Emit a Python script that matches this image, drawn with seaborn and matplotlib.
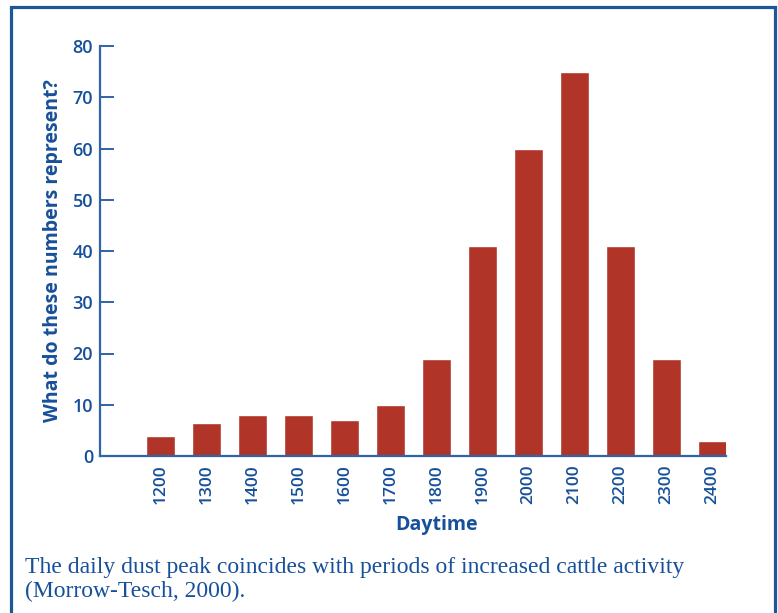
import matplotlib
matplotlib.use("Agg")
import matplotlib.pyplot as plt
from matplotlib.lines import Line2D
import seaborn as sns

# data
HOURS = ["1200", "1300", "1400", "1500", "1600", "1700", "1800",
         "1900", "2000", "2100", "2200", "2300", "2400"]
DUST = [4, 6.5, 8, 8, 7, 10, 19, 41, 60, 75, 41, 19, 3]
Y_TICKS = [0, 10, 20, 30, 40, 50, 60, 70, 80]

BAR_RED = "#B03428"
TEXT_BLUE = "#17509A"
AXIS_BLUE = "#2F64A6"
FRAME_BLUE = "#1C5799"

sns.set_style("white")
plt.rcParams["font.family"] = ["Open Sans", "DejaVu Sans"]

W, H = 778, 613
fig = plt.figure(figsize=(W / 100, H / 100), dpi=100)
ax = fig.add_axes([100 / W, 1 - 456 / H, 626 / W, 410 / H])

sns.barplot(x=HOURS, y=DUST, color=BAR_RED, saturation=1, width=0.63, ax=ax)

ax.set_xlim(-1.315, 12.29)
ax.set_ylim(0, 80)
ax.set_yticks(Y_TICKS)
for side in ["top", "right"]:
    ax.spines[side].set_visible(False)
for side in ["left", "bottom"]:
    ax.spines[side].set_color(AXIS_BLUE)
    ax.spines[side].set_linewidth(1.6)

ax.tick_params(axis="y", direction="in", length=10, width=1.4, color=AXIS_BLUE,
               labelcolor=TEXT_BLUE, labelsize=13, pad=5, left=True)
ax.tick_params(axis="x", length=0, pad=6, labelcolor=TEXT_BLUE, labelsize=12.5,
               labelrotation=90)
for lbl in ax.get_xticklabels() + ax.get_yticklabels():
    lbl.set_fontweight("semibold")

ax.set_ylabel("What do these numbers represent?", fontsize=14, fontweight="bold",
              color=TEXT_BLUE, labelpad=7)
ax.set_xlabel("Daytime", fontsize=14, fontweight="bold", color=TEXT_BLUE)
ax.xaxis.set_label_coords(0.537, -0.145)

# caption below the chart
cap_font = dict(family=["Liberation Serif", "DejaVu Serif"], fontsize=17, color=TEXT_BLUE)
fig.text(25 / W, 1 - 572.5 / H, "The daily dust peak coincides with periods of increased cattle activity",
         va="baseline", ha="left", **cap_font)
fig.text(25 / W, 1 - 597 / H, "(Morrow-Tesch, 2000).", va="baseline", ha="left", **cap_font)

# frame open at the bottom
x0, x1, y0 = 10.5 / W, 774.5 / W, 1 - 6.5 / H
frame = Line2D([x0, x0, x1, x1], [0, y0, y0, 0], transform=fig.transFigure,
               color=FRAME_BLUE, linewidth=2.3, solid_joinstyle="miter")
fig.add_artist(frame)

fig.savefig("out.png", dpi=100)
